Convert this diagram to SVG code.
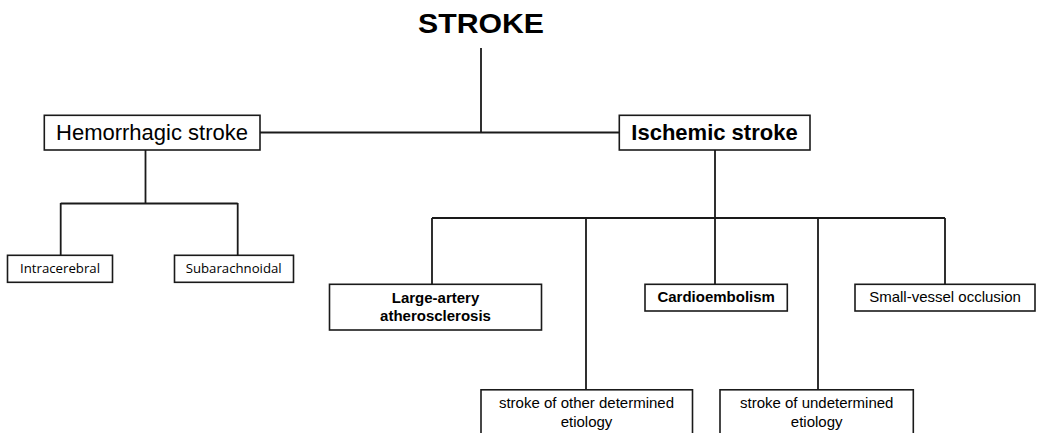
<svg xmlns="http://www.w3.org/2000/svg" width="1040" height="433" viewBox="0 0 1040 433">
<style>
.box{fill:#fff;stroke:#1a1a1a;stroke-width:1.6}
.ln{fill:none;stroke:#1a1a1a;stroke-width:1.8}
.t{font-family:"Liberation Sans",Arial,sans-serif;fill:#000;text-anchor:middle}
.b{font-weight:bold}
.c{font-family:"Open Sans","Noto Sans",sans-serif;fill:#000;text-anchor:middle;font-size:13px}
</style>
<rect width="1040" height="433" fill="#fff"/>
<g id="connectors">
<path class="ln" d="M481 48V133M260 132.5H619"/>
<path class="ln" d="M145.5 150V203.5M60.7 203.5H237.7M60.7 203V255M237.7 203V255"/>
<path class="ln" d="M715 150V218M432 218H945M432 218V284M586 218V390M715 218V284M818 218V390M945 218V284"/>
</g>
<g id="stroke-title">
<text class="t b" x="481" y="32.5" font-size="28" textLength="126" lengthAdjust="spacingAndGlyphs">STROKE</text>
</g>
<g id="hemorrhagic">
<rect class="box" x="44.3" y="115.3" width="215.7" height="34.7"/>
<text class="t" x="152" y="140" font-size="22">Hemorrhagic stroke</text>
</g>
<g id="ischemic">
<rect class="box" x="619.3" y="115.3" width="190.7" height="34.7"/>
<text class="t b" x="714.5" y="140" font-size="22">Ischemic stroke</text>
</g>
<g id="intracerebral">
<rect class="box" x="7.5" y="255.3" width="105" height="27"/>
<text class="c" x="60" y="272.5" textLength="80" lengthAdjust="spacingAndGlyphs">Intracerebral</text>
</g>
<g id="subarachnoidal">
<rect class="box" x="174.5" y="255.3" width="119" height="27"/>
<text class="c" x="233.7" y="272.5" textLength="96" lengthAdjust="spacingAndGlyphs">Subarachnoidal</text>
</g>
<g id="large-artery">
<rect class="box" x="329.5" y="284.3" width="212" height="45.7"/>
<text class="t b" x="435.5" y="302.5" font-size="15">Large-artery</text>
<text class="t b" x="435.5" y="321" font-size="15">atherosclerosis</text>
</g>
<g id="cardioembolism">
<rect class="box" x="645" y="284.3" width="142.3" height="26.7"/>
<text class="t b" x="716.2" y="302" font-size="15">Cardioembolism</text>
</g>
<g id="small-vessel">
<rect class="box" x="855" y="284.3" width="180" height="26.7"/>
<text class="t" x="945" y="302" font-size="15">Small-vessel occlusion</text>
</g>
<g id="other-determined">
<rect class="box" x="481" y="389.8" width="211.5" height="60"/>
<text class="t" x="586.5" y="408.3" font-size="15">stroke of other determined</text>
<text class="t" x="586.5" y="426.7" font-size="15">etiology</text>
</g>
<g id="undetermined">
<rect class="box" x="720" y="389.8" width="193.3" height="60"/>
<text class="t" x="816.7" y="408.3" font-size="15">stroke of undetermined</text>
<text class="t" x="816.7" y="426.7" font-size="15">etiology</text>
</g>
</svg>
